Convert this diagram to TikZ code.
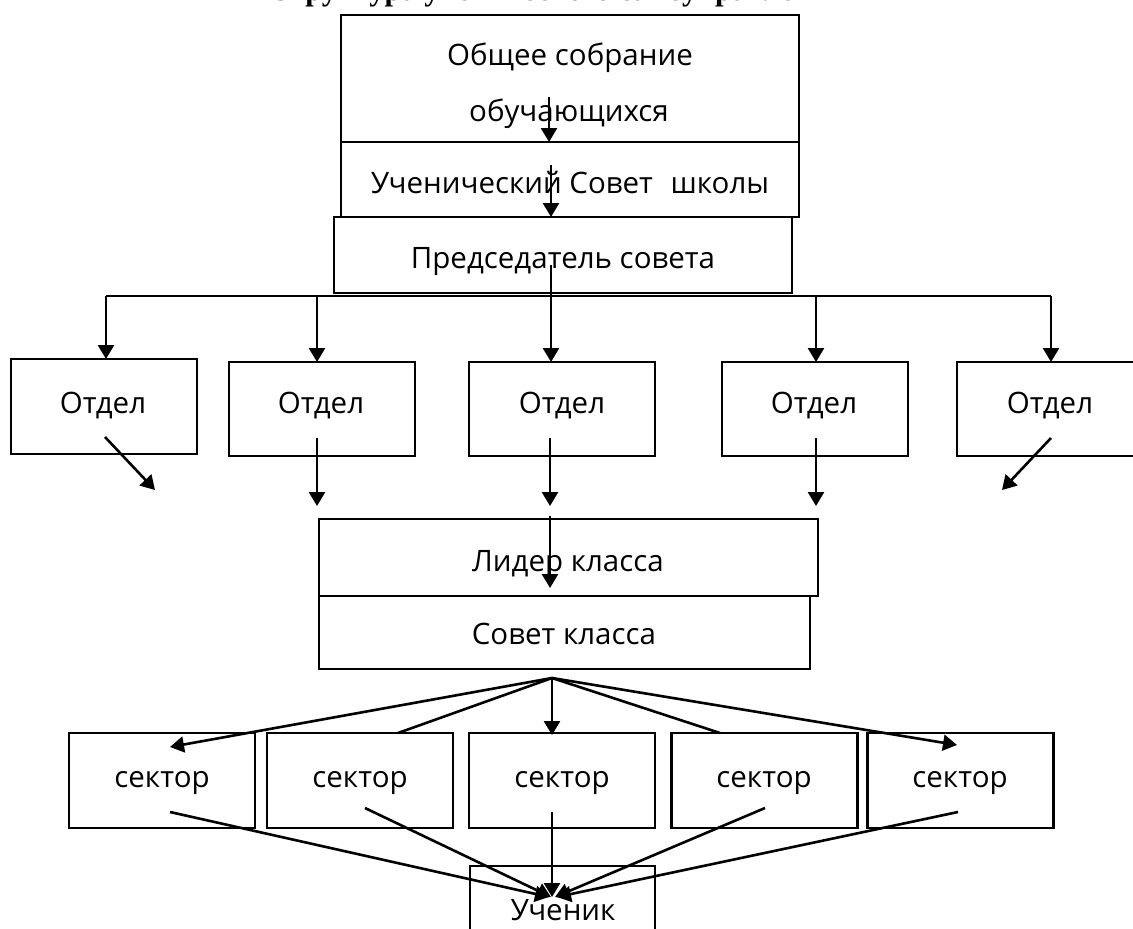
\documentclass[tikz,border=0pt]{standalone}
\usepackage{fontspec}
\setmainfont{Open Sans}
\newfontfamily\titlefont{Liberation Serif}
\usetikzlibrary{arrows.meta}
\begin{document}
\begin{tikzpicture}[x=1pt,y=-1pt,
  box/.style={draw, line width=2.2pt, inner sep=0pt, outer sep=0pt},
  lbl/.style={font=\fontsize{29.5}{32}\selectfont, inner sep=0pt, anchor=base},
  arr/.style={line width=2.6pt, -{Triangle[length=14pt,width=16pt]}},
  ln/.style={line width=2.6pt}]
\useasboundingbox (0,0) rectangle (1133,929);
% title (cropped at the top, as in the reference)
\node[font=\titlefont\bfseries\fontsize{30.5}{32}\selectfont, inner sep=0pt, anchor=base] (title) at (557,0.5) {Структура ученического самоуправления};
% boxes
\node[box, minimum width=458pt, minimum height=127pt] (b1) at (570,78.5) {};
\node[box, minimum width=458pt, minimum height=75pt] (b2) at (570,179.5) {};
\node[box, minimum width=458pt, minimum height=76pt] (b3) at (563,255) {};
\node[box, minimum width=186pt, minimum height=95pt] (oA) at (104,406.5) {};
\node[box, minimum width=186pt, minimum height=94pt] (oB) at (322,409) {};
\node[box, minimum width=186pt, minimum height=94pt] (oC) at (562,409) {};
\node[box, minimum width=186pt, minimum height=94pt] (oD) at (815,409) {};
\node[box, minimum width=186pt, minimum height=94pt] (oE) at (1050,409) {};
\node[box, minimum width=499pt, minimum height=77pt] (lid) at (568.5,557.5) {};
\node[box, minimum width=491pt, minimum height=73pt] (sov) at (564.5,632.5) {};
\node[box, minimum width=186pt, minimum height=95pt] (s1) at (162,780.5) {};
\node[box, minimum width=186pt, minimum height=95pt] (s2) at (360,780.5) {};
\node[box, minimum width=186pt, minimum height=95pt] (s3) at (562,780.5) {};
\node[box, minimum width=186pt, minimum height=95pt] (s4) at (764.5,780.5) {};
\node[box, minimum width=186pt, minimum height=95pt] (s5) at (960.5,780.5) {};
\node[box, minimum width=185pt, minimum height=79pt] (uch) at (562.5,905.5) {};
% labels
\node[lbl] (t1a) at (570,65) {Общее собрание};
\node[lbl] (t1b) at (569,121) {обучающихся};
\node[lbl] (t2) at (570,193) {Ученический Совет\hspace{0.6em}школы};
\node[lbl] (t3) at (563,268) {Председатель совета};
\node[lbl] (tA) at (103,413) {Отдел};
\node[lbl] (tB) at (321,413) {Отдел};
\node[lbl] (tC) at (562,413) {Отдел};
\node[lbl] (tD) at (814,413) {Отдел};
\node[lbl] (tE) at (1050,413) {Отдел};
\node[lbl] (tl) at (568,571) {Лидер класса};
\node[lbl] (ts) at (564,644) {Совет класса};
\node[lbl] (ts1) at (162,787) {сектор};
\node[lbl] (ts2) at (360,787) {сектор};
\node[lbl] (ts3) at (562,787) {сектор};
\node[lbl] (ts4) at (764,787) {сектор};
\node[lbl] (ts5) at (960,787) {сектор};
\node[lbl] (tu) at (563,920) {Ученик};
% top chain
\coordinate (p1) at (549,97);
\coordinate (p2) at (551,165);
\coordinate (p3) at (551,265);
\draw[arr] (p1) -- (p1 |- b2.north);
\draw[arr] (p2) -- (p2 |- b3.north);
\draw[arr] (p3) -- (p3 |- oC.north);
% bus
\coordinate (hl) at (106,296);
\coordinate (hB) at (317,296);
\coordinate (hD) at (816,296);
\coordinate (hr) at (1051,296);
\draw[ln] (hl) -- (hr);
\draw[arr] (hl) -- (hl |- oA.north);
\draw[arr] (hB) -- (hB |- oB.north);
\draw[arr] (hD) -- (hD |- oD.north);
\draw[arr] (hr) -- (hr |- oE.north);
% from departments
\coordinate (dA) at (105,437);  \coordinate (eA) at (155,490);
\coordinate (dB) at (317,438);  \coordinate (eB) at (317,506);
\coordinate (dC) at (550,438);  \coordinate (eC) at (550,506);
\coordinate (dD) at (816,438);  \coordinate (eD) at (816,506);
\coordinate (dE) at (1051,438); \coordinate (eE) at (1002,490);
\draw[arr] (dA) -- (eA);
\draw[arr] (dB) -- (eB);
\draw[arr] (dC) -- (eC);
\draw[arr] (dD) -- (eD);
\draw[arr] (dE) -- (eE);
% inside leader box
\coordinate (lA) at (550,516); \coordinate (lB) at (550,588);
\draw[arr] (lA) -- (lB);
% fan from class council
\coordinate (fan) at (552,678);
\coordinate (f1) at (170,747);
\coordinate (f2) at (398,733);
\coordinate (f3) at (552,735);
\coordinate (f4) at (720,733);
\coordinate (f5) at (957,745);
\draw[arr] (fan) -- (f1);
\draw[ln] (fan) -- (f2);
\draw[arr] (fan) -- (f3);
\draw[ln] (fan) -- (f4);
\draw[arr] (fan) -- (f5);
% fan to pupil
\coordinate (g1) at (170,812); \coordinate (u1) at (549,897);
\coordinate (g2) at (365,808); \coordinate (u2) at (551,897);
\coordinate (g3) at (552,812); \coordinate (u3) at (552,897);
\coordinate (g4) at (765,808); \coordinate (u4) at (555,897);
\coordinate (g5) at (958,812); \coordinate (u5) at (557,897);
\draw[arr] (g1) -- (u1);
\draw[arr] (g2) -- (u2);
\draw[arr] (g3) -- (u3);
\draw[arr] (g4) -- (u4);
\draw[arr] (g5) -- (u5);
\end{tikzpicture}
\end{document}
